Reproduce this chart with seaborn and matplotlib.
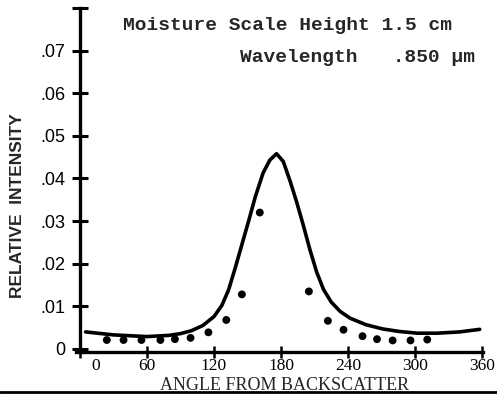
import numpy as np
import pandas as pd
import matplotlib
matplotlib.use("Agg")
import matplotlib.pyplot as plt
from matplotlib.transforms import ScaledTranslation
from matplotlib.lines import Line2D
import seaborn as sns

# ---- data ----
curve_angle = [5, 30, 60, 80, 90, 100, 110, 120, 127, 133, 139, 145, 151, 157, 164, 170,
               176, 182, 188, 194, 200, 206, 212, 218, 225, 233, 242, 256, 271, 286, 302,
               320, 340, 358]
curve_value = [0.0040, 0.0033, 0.0029, 0.0032, 0.0036, 0.0043, 0.0055, 0.0076, 0.0102,
               0.0138, 0.0190, 0.0245, 0.0300, 0.0357, 0.0413, 0.0443, 0.0458, 0.0440,
               0.0395, 0.0345, 0.0290, 0.0232, 0.0180, 0.0140, 0.0110, 0.0088, 0.0072,
               0.0057, 0.0047, 0.0041, 0.0037, 0.0037, 0.0040, 0.0046]

dot_angle = [24, 39, 55, 72, 85, 99, 115, 131, 145, 161, 205, 222, 236, 253, 266, 280,
             296, 311]
dot_value = [0.0021, 0.0021, 0.0021, 0.0021, 0.0023, 0.0026, 0.0039, 0.0068, 0.0128,
             0.0320, 0.0135, 0.0066, 0.0045, 0.0030, 0.0023, 0.0020, 0.0020, 0.0022]

x_ticks = [0, 60, 120, 180, 240, 300, 360]
x_tick_labels = ["0", "60", "120", "180", "240", "300", "360"]
y_ticks = [0, 0.01, 0.02, 0.03, 0.04, 0.05, 0.06, 0.07]
y_tick_labels = ["0", ".01", ".02", ".03", ".04", ".05", ".06", ".07"]

title1 = "Moisture Scale Height 1.5 cm"
title2 = "Wavelength   .850 \u00b5m"
x_label = "ANGLE FROM BACKSCATTER"
y_label = "RELATIVE  INTENSITY"

curve_df = pd.DataFrame({"angle": curve_angle, "value": curve_value})
dot_df = pd.DataFrame({"angle": dot_angle, "value": dot_value})

sns.set_style("white")
plt.rcParams["font.family"] = ["DejaVu Sans"]

fig = plt.figure(figsize=(4.97, 3.95), dpi=100)
ax = fig.add_axes([0.152, 0.109, 0.820, 0.871])

sns.lineplot(data=curve_df, x="angle", y="value", ax=ax, color="black", lw=2.6)
sns.scatterplot(data=dot_df, x="angle", y="value", ax=ax, color="black", s=32,
                edgecolor="none")

ax.set_xlim(-4, 361)
ax.set_ylim(-0.0007, 0.080)

for s in ["top", "right"]:
    ax.spines[s].set_visible(False)
ax.spines["left"].set_position(("data", 0))
for s in ["left", "bottom"]:
    ax.spines[s].set_linewidth(2.4)
    ax.spines[s].set_color("black")

ax.set_yticks(y_ticks + [0.080])
ax.set_yticklabels(y_tick_labels + [""], fontsize=13, family="Liberation Sans")
ax.set_xticks(x_ticks)
ax.set_xticklabels(x_tick_labels, fontsize=12.5, family="Liberation Serif")
ax.tick_params(axis="y", left=True, direction="inout", length=11, width=2.2, pad=5,
               colors="black")
ax.tick_params(axis="x", bottom=True, direction="inout", length=9, width=1.8, pad=0,
               colors="black")

lbl0 = ax.get_xticklabels()[0]
lbl0.set_transform(lbl0.get_transform() + ScaledTranslation(11 / 72, 0, fig.dpi_scale_trans))

ax.set_xlabel(x_label, fontsize=13, family="Liberation Serif")
ax.xaxis.set_label_coords(0.514, -0.074)
ax.set_ylabel(y_label, fontsize=12.5, family="Liberation Sans", fontweight="bold")
ax.yaxis.set_label_coords(-0.124, 0.424)

fig.text(123 / 497, 1 - 25 / 395, title1, fontsize=14, family="Liberation Mono",
         fontweight="bold", va="center", ha="left")
fig.text(240 / 497, 1 - 57 / 395, title2, fontsize=14, family="Liberation Mono",
         fontweight="bold", va="center", ha="left")

fig.add_artist(Line2D([0, 1], [1 - 392 / 395, 1 - 392 / 395], color="black", lw=2,
                      transform=fig.transFigure))

fig.savefig("out.png", dpi=100, facecolor="white")
